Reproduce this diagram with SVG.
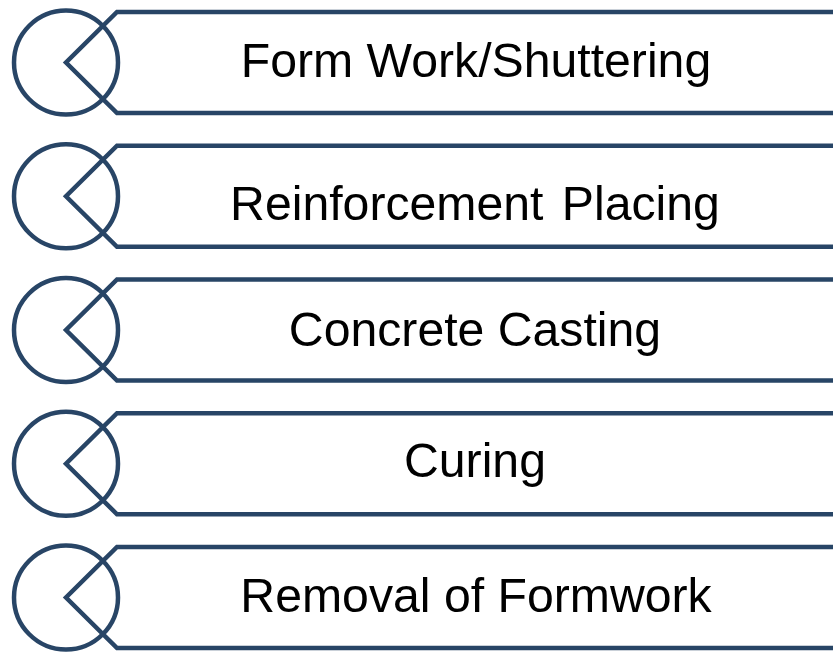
<svg xmlns="http://www.w3.org/2000/svg" width="833" height="652" viewBox="0 0 833 652">
  <defs>
    <style>
      .ring { fill: none; stroke: #284566; stroke-width: 4.5; }
      .tab { fill: none; stroke: #284566; stroke-width: 4.5; stroke-linejoin: miter; }
      .label { font-family: "Liberation Sans", Arial, sans-serif; font-size: 48.2px; fill: #000000; text-anchor: middle; }
    </style>
    <!-- one step: circle plus a chevron-tipped band, centred on y=0 -->
    <g id="step">
      <circle class="ring" cx="66" cy="0" r="52"/>
      <path class="tab" d="M 840 -50.5 L 117 -50.5 L 66 0 L 117 50.5 L 840 50.5"/>
    </g>
  </defs>
  <rect width="833" height="652" fill="#ffffff"/>

  <g id="step1">
    <use href="#step" transform="translate(0,62.5)"/>
    <text class="label" x="476" y="77">Form Work/Shuttering</text>
  </g>
  <g id="step2">
    <use href="#step" transform="translate(0,196.25)"/>
    <text class="label" x="475" y="220" word-spacing="5">Reinforcement Placing</text>
  </g>
  <g id="step3">
    <use href="#step" transform="translate(0,330)"/>
    <text class="label" x="475" y="346">Concrete Casting</text>
  </g>
  <g id="step4">
    <use href="#step" transform="translate(0,463.75)"/>
    <text class="label" x="475" y="477">Curing</text>
  </g>
  <g id="step5">
    <use href="#step" transform="translate(0,597.5)"/>
    <text class="label" x="476" y="612">Removal of Formwork</text>
  </g>
  <g id="connectors"/>
</svg>
